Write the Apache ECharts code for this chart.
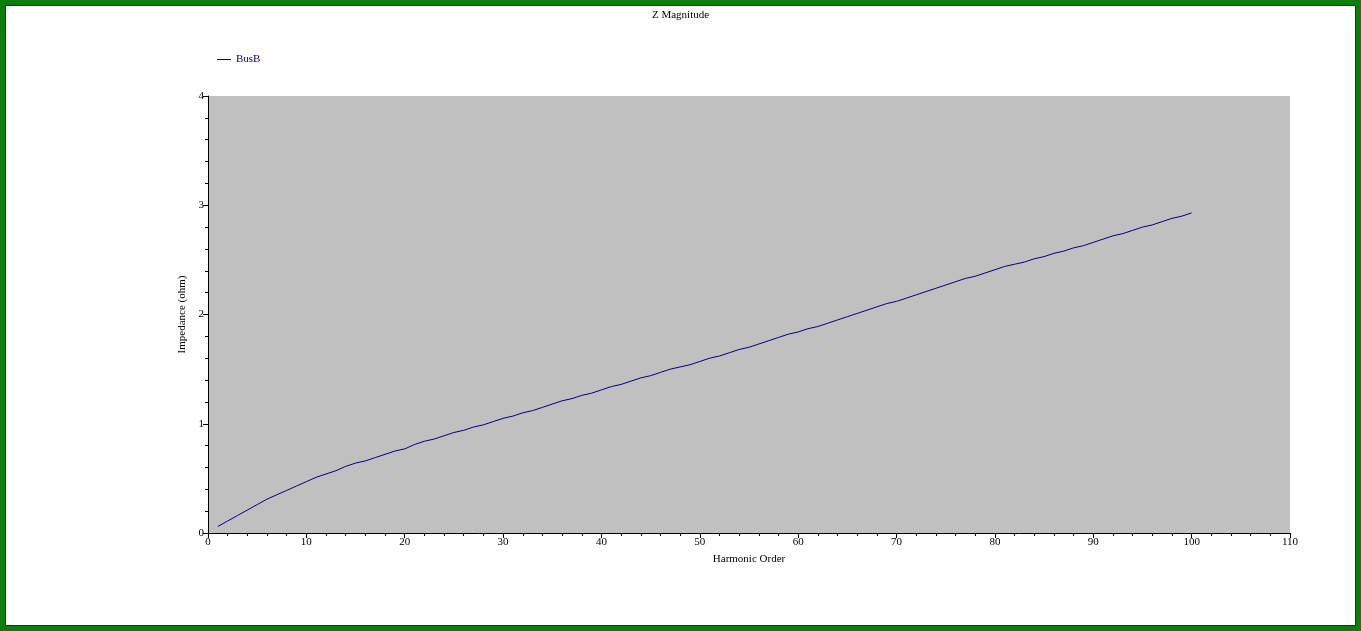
<!DOCTYPE html>
<html>
<head>
<meta charset="utf-8">
<script src="https://cdn.jsdelivr.net/npm/echarts@6/dist/echarts.min.js"></script>
<style>
html,body{margin:0;padding:0;background:#fff;}
#chart{position:absolute;left:0;top:0;width:1361px;height:631px;}
#frame{position:absolute;left:0;top:0;width:1361px;height:631px;box-sizing:border-box;border:5px solid #0b7d0b;pointer-events:none;}
#frame2{position:absolute;left:5px;top:5px;width:1351px;height:621px;box-sizing:border-box;border:1px solid #3a2a08;pointer-events:none;}
</style>
</head>
<body>
<div id="chart"></div>
<div id="frame"></div>
<div id="frame2"></div>
<script>
const titleText = "Z Magnitude";
const seriesName = "BusB";
const xAxisName = "Harmonic Order";
const yAxisName = "Impedance (ohm)";
const harmonics = [];
for (let h = 1; h <= 100; h++) harmonics.push(h);
const impedance = [
  0.06,0.11,0.16,0.21,0.26,0.31,0.35,0.39,0.43,0.47,
  0.51,0.54,0.57,0.61,0.64,0.66,0.69,0.72,0.75,0.77,
  0.81,0.84,0.86,0.89,0.92,0.94,0.97,0.99,1.02,1.05,
  1.07,1.10,1.12,1.15,1.18,1.21,1.23,1.26,1.28,1.31,
  1.34,1.36,1.39,1.42,1.44,1.47,1.50,1.52,1.54,1.57,
  1.60,1.62,1.65,1.68,1.70,1.73,1.76,1.79,1.82,1.84,
  1.87,1.89,1.92,1.95,1.98,2.01,2.04,2.07,2.10,2.12,
  2.15,2.18,2.21,2.24,2.27,2.30,2.33,2.35,2.38,2.41,
  2.44,2.46,2.48,2.51,2.53,2.56,2.58,2.61,2.63,2.66,
  2.69,2.72,2.74,2.77,2.80,2.82,2.85,2.88,2.90,2.93
];
const pairs = harmonics.map((h, i) => [h, impedance[i]]);
const font = "'Liberation Serif', 'Times New Roman', serif";
const chart = echarts.init(document.getElementById('chart'));
chart.setOption({
  animation: false,
  backgroundColor: '#ffffff',
  title: {
    text: titleText, left: 'center', top: 5,
    textStyle: {fontFamily: font, fontSize: 11, fontWeight: 'normal', color: '#000'}
  },
  legend: {
    left: 212, top: 49, itemWidth: 14, itemHeight: 10, itemGap: 6,
    icon: 'path://M0,5 L14,5 L14,6 L0,6 Z',
    textStyle: {fontFamily: font, fontSize: 11, color: '#000080', padding: [0, 0, 0, 0]},
    data: [{name: seriesName, itemStyle: {color: '#000080'}}]
  },
  grid: {
    left: 208, right: 71, top: 96, bottom: 98,
    show: true, backgroundColor: '#c0c0c0', borderWidth: 0
  },
  xAxis: {
    type: 'value', min: 0, max: 110, interval: 10,
    name: xAxisName, nameLocation: 'middle', nameGap: 21,
    nameTextStyle: {fontFamily: font, fontSize: 11, color: '#000'},
    axisLine: {show: true, onZero: false, lineStyle: {color: '#000', width: 1}},
    axisTick: {show: true, inside: false, length: 5, lineStyle: {color: '#000'}},
    minorTick: {show: true, splitNumber: 5, length: 3, lineStyle: {color: '#000'}},
    axisLabel: {fontFamily: font, fontSize: 11, color: '#000', margin: 4},
    splitLine: {show: false}
  },
  yAxis: {
    type: 'value', min: 0, max: 4, interval: 1,
    name: yAxisName, nameLocation: 'middle', nameGap: 17,
    nameTextStyle: {fontFamily: font, fontSize: 11, color: '#000'},
    axisLine: {show: true, onZero: false, lineStyle: {color: '#000', width: 1}},
    axisTick: {show: true, inside: false, length: 5, lineStyle: {color: '#000'}},
    minorTick: {show: true, splitNumber: 5, length: 3, lineStyle: {color: '#000'}},
    axisLabel: {fontFamily: font, fontSize: 11, color: '#000', margin: 4},
    splitLine: {show: false}
  },
  series: [{
    name: seriesName, type: 'line', data: pairs,
    showSymbol: false, symbol: 'none',
    lineStyle: {color: '#000080', width: 1},
    itemStyle: {color: '#000080'}
  }]
});
</script>
</body>
</html>
